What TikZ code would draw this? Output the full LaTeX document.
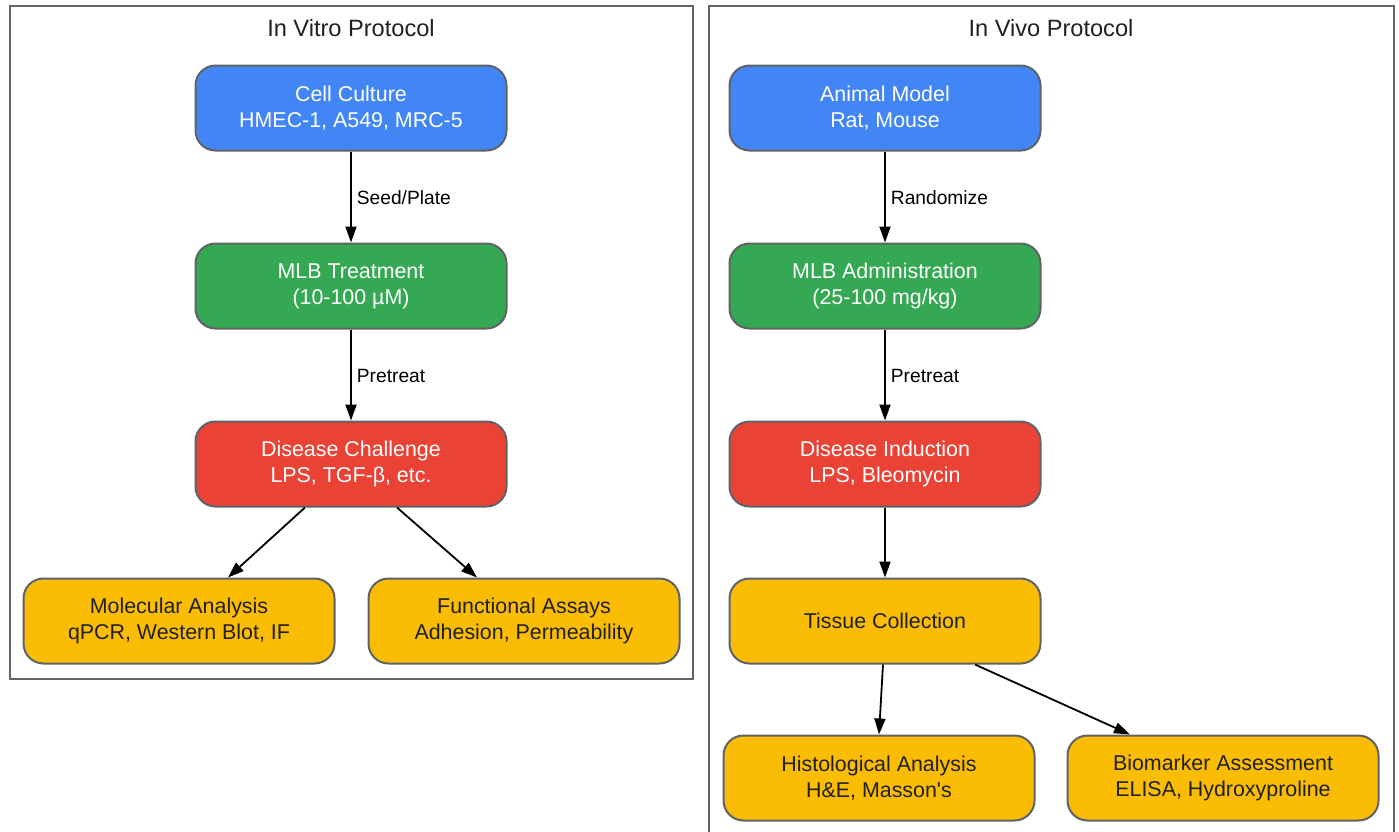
\documentclass[tikz,border=0pt]{standalone}
\usepackage{fontspec}
\setmainfont{Liberation Sans}
\newfontfamily\nomapfont{Liberation Sans}
\usetikzlibrary{arrows.meta}
\definecolor{gblue}{HTML}{4285F4}
\definecolor{ggreen}{HTML}{34A853}
\definecolor{gred}{HTML}{EA4335}
\definecolor{gyellow}{HTML}{FBBC04}
\definecolor{gborder}{HTML}{5F6368}
\definecolor{gtext}{HTML}{202124}
\definecolor{cluster}{HTML}{666666}
\begin{document}
\begin{tikzpicture}[x=0.5pt,y=-0.5pt,
  box/.style={draw=gborder,line width=1pt,rounded corners=10pt,minimum width=155.5pt,minimum height=42.5pt,align=center,font=\fontsize{10.7pt}{13pt}\selectfont,inner sep=0pt},
  bluebox/.style={box,fill=gblue,text=white},
  greenbox/.style={box,fill=ggreen,text=white},
  redbox/.style={box,fill=gred,text=white},
  yellowbox/.style={box,fill=gyellow,text=gtext},
  clusterbox/.style={draw=cluster,line width=0.8pt},
  ctitle/.style={font=\fontsize{11.8pt}{13pt}\selectfont,text=gtext},
  arr/.style={-{Triangle[length=8pt,width=5.5pt]},line width=0.9pt,black},
  elabel/.style={font=\fontsize{9.6pt}{11pt}\selectfont,anchor=west,inner sep=0pt,yshift=-0.5pt}]
\useasboundingbox (0,0) rectangle (1399,831);
\fill[white] (0,0) rectangle (1399,831);
\begin{scope}
\clip (0,0) rectangle (1399,831);
\draw[clusterbox] (10,6) rectangle (693,679);
\draw[clusterbox] (709,6) rectangle (1394,850);
\end{scope}
\node[ctitle] (t1) at (351,28) {In Vitro Protocol};
\node[ctitle] (t2) at (1051,28) {In Vivo Protocol};
% left
\node[bluebox] (cc) at (351,108) {Cell Culture\\HMEC-1, A549, MRC-5};
\node[greenbox,yshift=-0.5pt] (mt) at (351,285) {MLB Treatment\\(10-100 µM)};
\node[redbox,yshift=-0.5pt] (dc) at (351,463) {Disease Challenge\\LPS, TGF-β, etc.};
\node[yellowbox,yshift=-0.5pt] (ma) at (179,620) {Molecular Analysis\\qPCR, Western Blot, IF};
\node[yellowbox,yshift=-0.5pt] (fa) at (524,620) {Functional Assays\\Adhesion, Permeability};
% right
\node[bluebox,yshift=-0.5pt] (am) at (885,107) {Animal Model\\Rat, Mouse};
\node[greenbox,yshift=-0.5pt] (ad) at (885,285) {MLB Administration\\(25-100 mg/kg)};
\node[redbox,yshift=-0.5pt] (di) at (885,463) {Disease Induction\\LPS, Bleomycin};
\node[yellowbox,yshift=-0.5pt] (tc) at (885,620) {Tissue Collection};
\node[yellowbox,yshift=-0.5pt] (ha) at (879,777) {Histological Analysis\\H\&E, Masson{\nomapfont'}s};
\node[yellowbox,yshift=-0.5pt] (ba) at (1223,777) {Biomarker Assessment\\ELISA, Hydroxyproline};
% edges left
\draw[arr] (cc) -- (mt) node[midway,elabel,xshift=2.5pt] (l1) {Seed/Plate};
\draw[arr] (mt) -- (dc) node[midway,elabel,xshift=2.5pt] (l2) {Pretreat};
\draw[arr] ([xshift=-23pt]dc.south) -- ([xshift=24.5pt]ma.north);
\draw[arr] ([xshift=23pt]dc.south) -- ([xshift=-23.5pt]fa.north);
% edges right
\draw[arr] (am) -- (ad) node[midway,elabel,xshift=2.5pt] (l3) {Randomize};
\draw[arr] (ad) -- (di) node[midway,elabel,xshift=2.5pt] (l4) {Pretreat};
\draw[arr] (di) -- (tc);
\draw[arr] ([xshift=-1pt]tc.south) -- (ha.north);
\draw[arr] ([xshift=45pt]tc.south) -- ([xshift=-46.5pt]ba.north);
\end{tikzpicture}
\end{document}
